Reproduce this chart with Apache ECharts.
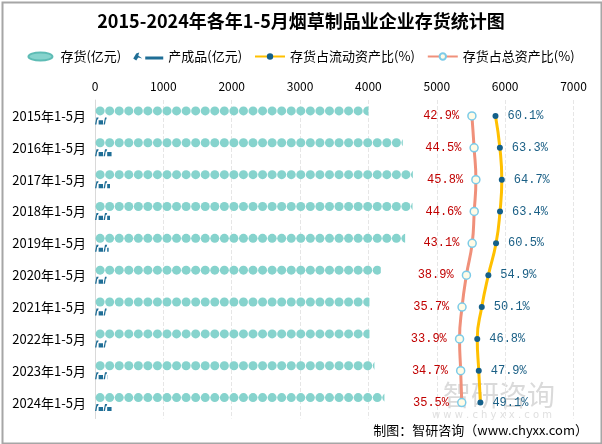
<!DOCTYPE html>
<html>
<head>
<meta charset="utf-8">
<script src="https://cdn.jsdelivr.net/npm/echarts@6/dist/echarts.min.js"></script>
<style>html,body{margin:0;padding:0;background:#fff}#c{width:602px;height:444px}</style>
</head>
<body>
<div id="c"></div>
<script>
const categories = ['2015年1-5月','2016年1-5月','2017年1-5月','2018年1-5月','2019年1-5月','2020年1-5月','2021年1-5月','2022年1-5月','2023年1-5月','2024年1-5月'];
const inventory = [4000, 4503, 4650, 4645, 4537, 4181, 4015, 4015, 4088, 4234];
const finishedGoods = [170, 250, 220, 220, 200, 170, 170, 170, 180, 250];
const ratioCurrent = [60.1, 63.3, 64.7, 63.4, 60.5, 54.9, 50.1, 46.8, 47.9, 49.1];
const ratioTotal = [42.9, 44.5, 45.8, 44.6, 43.1, 38.9, 35.7, 33.9, 34.7, 35.5];
const xTicks = [0, 7000, 1000];

const FONT = '"Noto Sans CJK SC", sans-serif';
const chart = echarts.init(document.getElementById('c'), null, {renderer: 'canvas'});
const figPath = 'path://M0,10 L2,0 L5,0 L4,3 L3,3 L2,10 Z M5,4 L11,4 L11,10 L5,10 Z';
const ellipsePath = 'path://M0,5 A15,5 0 1,0 30,5 A15,5 0 1,0 0,5 Z';
const legendFig = 'path://M0,6 L3,1 L6,0 L5,3 L9,6 L5,5 L3,8 Z M12,4 L30,4 L30,7 L12,7 Z';

chart.setOption({
  backgroundColor: '#fff',
  animation: false,
  textStyle: {fontFamily: FONT},
  title: {
    text: '2015-2024年各年1-5月烟草制品业企业存货统计图',
    left: 'center', top: 7,
    textStyle: {fontSize: 18, fontWeight: 'bold', color: '#000', fontFamily: FONT}
  },
  legend: {
    top: 45, left: 'center', itemWidth: 30, itemHeight: 8, itemGap: 12,
    textStyle: {fontSize: 13, color: '#000', fontFamily: FONT},
    data: [
      {name: '存货(亿元)', icon: ellipsePath},
      {name: '产成品(亿元)', icon: legendFig},
      '存货占流动资产比(%)', '存货占总资产比(%)'
    ]
  },
  grid: {left: 95, right: 28.5, top: 100, bottom: 25.5},
  xAxis: [{
    type: 'value', position: 'top', min: xTicks[0], max: xTicks[1], interval: xTicks[2],
    axisLine: {show: false}, axisTick: {show: false},
    axisLabel: {color: '#000', fontSize: 12, margin: 8, fontFamily: FONT, formatter: v => String(v)},
    splitLine: {show: true, lineStyle: {color: '#e6e6e6', type: 'dashed'}}
  }, {
    type: 'value', min: -232, max: 117, show: false
  }],
  yAxis: {
    type: 'category', inverse: true, data: categories,
    axisLine: {show: true, lineStyle: {color: '#d9d9d9'}},
    axisTick: {show: false},
    axisLabel: {color: '#000', fontSize: 13, margin: 9, fontFamily: FONT}
  },
  series: [{
    name: '存货(亿元)', type: 'pictorialBar', xAxisIndex: 0,
    symbol: 'circle', symbolSize: [9, 9], symbolRepeat: true, symbolClip: true,
    symbolMargin: -0.3, symbolOffset: [0, -5],
    itemStyle: {color: '#86d3cd', borderColor: '#5ebcb5', borderWidth: 1.2},
    data: inventory, z: 3
  }, {
    name: '产成品(亿元)', type: 'pictorialBar', xAxisIndex: 0,
    symbol: figPath, symbolSize: [8, 7], symbolRepeat: true, symbolClip: true,
    symbolMargin: 0.3, symbolOffset: [0, 5],
    itemStyle: {color: '#1f6e96'},
    data: finishedGoods, z: 3
  }, {
    name: '存货占流动资产比(%)', type: 'line', xAxisIndex: 1, smooth: true,
    symbol: 'circle', symbolSize: 6,
    lineStyle: {color: '#ffc000', width: 3},
    itemStyle: {color: '#14608a'},
    label: {show: true, position: 'right', distance: 9, formatter: '{c}%', color: '#1a5f85', fontSize: 12, fontFamily: '"Liberation Mono", monospace'},
    data: ratioCurrent, z: 5
  }, {
    name: '存货占总资产比(%)', type: 'line', xAxisIndex: 1, smooth: true,
    symbol: 'circle', symbolSize: 8,
    lineStyle: {color: '#f0907a', width: 3},
    itemStyle: {color: '#fffbe6', borderColor: '#7ccbe8', borderWidth: 1.5},
    label: {show: true, position: 'left', distance: 8, formatter: '{c}%', color: '#c00000', fontSize: 12, fontFamily: '"Liberation Mono", monospace'},
    data: ratioTotal, z: 5
  }],
  graphic: [
    {type: 'rect', left: 0, top: 0, z: -1, shape: {x: 1, y: 1, width: 599, height: 441}, style: {fill: 'none', stroke: '#a6a6a6', lineWidth: 2}, silent: true},
    {type: 'text', left: 443, top: 381, z: 0, style: {text: '智研咨询', fill: 'rgba(150,150,150,0.35)', font: '28px "Noto Sans CJK SC"'}},
    {type: 'text', left: 432, top: 410, z: 0, style: {text: 'w w w . c h y x x . c o m', fill: 'rgba(150,150,150,0.3)', font: '10px "DejaVu Sans"'}},
    {type: 'text', right: 14, top: 424, z: 10, style: {text: '制图：智研咨询（www.chyxx.com）', fill: '#000', font: '13px "Noto Sans CJK SC"'}}
  ]
});
</script>
</body>
</html>
